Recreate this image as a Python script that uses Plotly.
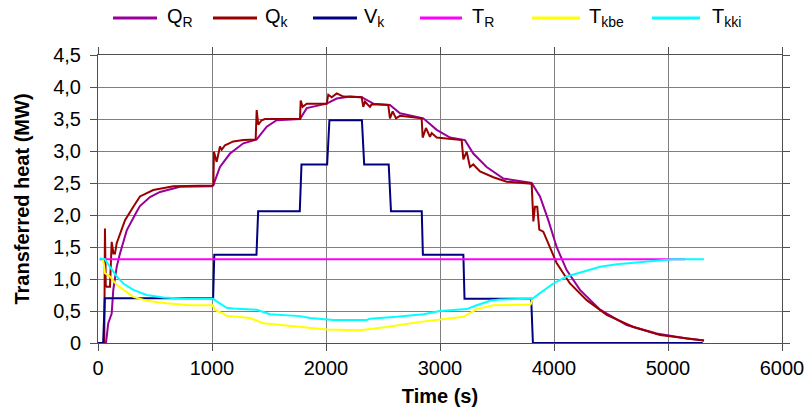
import plotly.graph_objects as go

# Time axis (s) and series values (MW) for each trace
qr_t = [55, 70, 90, 120, 134, 164, 193, 208, 252, 339, 368, 456, 544, 719, 1003, 1012, 1070, 1158, 1275, 1392,
        1480, 1567, 1772, 1831, 1977, 2006, 2094, 2211, 2313, 2415, 2561, 2649, 2854, 2971, 3088, 3219, 3292, 3409,
        3556, 3804, 3877, 3950, 4023, 4111, 4228, 4404, 4637, 4900, 5164, 5316]
qr_v = [0, 0, 0.31, 0.46, 0.83, 1.19, 1.40, 1.50, 1.76, 2.05, 2.14, 2.28, 2.36, 2.44, 2.45, 2.47, 2.75, 2.96, 3.12, 3.18,
        3.38, 3.48, 3.50, 3.67, 3.73, 3.74, 3.82, 3.85, 3.84, 3.74, 3.72, 3.59, 3.51, 3.33, 3.21, 3.17, 2.96, 2.75,
        2.57, 2.50, 2.29, 1.92, 1.50, 1.14, 0.83, 0.52, 0.28, 0.15, 0.07, 0.04]

qk_t = [40, 55, 61, 68, 76, 105, 112, 120, 135, 149, 164, 193, 237, 310, 368, 485, 661, 1003, 1012, 1017,
        1041, 1070, 1085, 1114, 1187, 1275, 1383, 1392, 1406, 1435, 1465, 1772, 1778, 1795, 1831, 2006, 2020, 2050,
        2094, 2152, 2313, 2327, 2342, 2386, 2400, 2546, 2561, 2585, 2614, 2649, 2839, 2848, 2877, 2912, 2927, 2971,
        3190, 3205, 3234, 3263, 3292, 3351, 3468, 3585, 3804, 3819, 3833, 3853, 3871, 3906, 3965, 4023, 4140, 4287,
        4462, 4696, 4930, 5164, 5316]
qk_v = [0, 0, 1.79, 0.9, 0.88, 0.88, 1.2, 1.58, 1.40, 1.40, 1.56, 1.71, 1.92, 2.13, 2.29, 2.39, 2.45, 2.46, 2.47, 2.99,
        2.83, 3.07, 3.02, 3.09, 3.15, 3.17, 3.18, 3.64, 3.41, 3.48, 3.50, 3.50, 3.79, 3.69, 3.74, 3.74, 3.88, 3.84,
        3.90, 3.85, 3.84, 3.69, 3.77, 3.69, 3.73, 3.72, 3.51, 3.62, 3.51, 3.55, 3.51, 3.21, 3.36, 3.22, 3.28, 3.21,
        3.17, 2.87, 2.99, 2.75, 2.79, 2.68, 2.59, 2.52, 2.49, 1.90, 2.13, 2.13, 1.77, 1.74, 1.48, 1.25, 0.93, 0.67,
        0.44, 0.25, 0.125, 0.07, 0.04]

vk_t = [0, 45, 60, 1010, 1020, 1390, 1405, 1770, 1785, 2010, 2030, 2315, 2335, 2550, 2570, 2840, 2850, 3205, 3215,
        3800, 3815, 5305]
vk_v = [0, 0, 0.70, 0.70, 1.38, 1.38, 2.06, 2.06, 2.79, 2.79, 3.48, 3.48, 2.79, 2.79, 2.06, 2.06, 1.38, 1.38, 0.69,
        0.69, 0, 0]

tr_t = [15, 5150]
tr_v = [1.31, 1.31]

tkbe_t = [40, 50, 61, 105, 164, 222, 310, 427, 602, 807, 1005, 1026, 1056, 1100, 1129, 1217, 1333, 1450, 1772, 2006,
          2298, 2532, 2825, 3000, 3205, 3322, 3468, 3795, 3810]
tkbe_v = [1.31, 1.25, 1.09, 1.04, 0.91, 0.83, 0.72, 0.66, 0.62, 0.59, 0.59, 0.52, 0.49, 0.46, 0.42, 0.41, 0.39, 0.31,
          0.25, 0.21, 0.20, 0.25, 0.33, 0.37, 0.41, 0.53, 0.59, 0.60, 0.68]

tkki_t = [15, 60, 105, 164, 222, 310, 427, 573, 778, 1010, 1041, 1070, 1129, 1187, 1392, 1509, 1772, 1860, 2064, 2357,
          2386, 2620, 2854, 3000, 3234, 3322, 3439, 3526, 3810, 3877, 3994, 4111, 4257, 4404, 4550, 4813, 5047, 5315]
tkki_v = [1.32, 1.31, 1.19, 1.04, 0.93, 0.83, 0.75, 0.71, 0.69, 0.69, 0.65, 0.62, 0.55, 0.54, 0.52, 0.45, 0.42, 0.39,
          0.36, 0.36, 0.38, 0.41, 0.45, 0.50, 0.53, 0.59, 0.66, 0.68, 0.69, 0.78, 0.93, 1.04, 1.11, 1.19, 1.23, 1.27,
          1.31, 1.31]

series_names = ["Q<sub>R</sub>", "Q<sub>k</sub>", "V<sub>k</sub>", "T<sub>R</sub>", "T<sub>kbe</sub>", "T<sub>kki</sub>"]
series_colors = ["#990099", "#990000", "#000080", "#FF00FF", "#FFFF00", "#00FFFF"]

y_tick_vals = [0, 0.5, 1.0, 1.5, 2.0, 2.5, 3.0, 3.5, 4.0, 4.5]
y_tick_text = ["0", "0,5", "1,0", "1,5", "2,0", "2,5", "3,0", "3,5", "4,0", "4,5"]
x_tick_vals = [0, 1000, 2000, 3000, 4000, 5000, 6000]

FONT = "Liberation Sans, Arial, sans-serif"

fig = go.Figure()
data = [(qr_t, qr_v), (qk_t, qk_v), (vk_t, vk_v), (tr_t, tr_v), (tkbe_t, tkbe_v), (tkki_t, tkki_v)]
for (t, v), name, col in zip(data, series_names, series_colors):
    fig.add_trace(go.Scatter(x=t, y=v, mode="lines", name=name,
                             line=dict(color=col, width=2), showlegend=False))

# Legend row drawn above the plot area
W, H = 684.0, 288.0
legend_lines = [(113, 157), (213, 257), (313, 357), (420, 462), (532, 580), (652, 700)]
legend_text_x = [165, 263, 362, 470, 587, 710]
ly = (343 - 18) / H
for (x0, x1), tx, name, col in zip(legend_lines, legend_text_x, series_names, series_colors):
    fig.add_shape(type="line", xref="paper", yref="paper",
                  x0=(x0 - 98) / W, x1=(x1 - 98) / W, y0=ly, y1=ly,
                  line=dict(color=col, width=3))
    fig.add_annotation(xref="paper", yref="paper", x=(tx - 98) / W, y=ly, text=name,
                       showarrow=False, xanchor="left", yanchor="middle",
                       font=dict(family=FONT, size=20, color="black"))

axis_common = dict(showgrid=True, gridcolor="#808080", gridwidth=1,
                   showline=True, linecolor="#505050", linewidth=1, mirror="ticks",
                   ticks="outside", ticklen=7, tickcolor="#505050", automargin=False,
                   tickfont=dict(family=FONT, size=20, color="black"), zeroline=False)

fig.update_xaxes(range=[0, 6000], tickvals=x_tick_vals,
                 title=dict(text="<b>Time (s)</b>", font=dict(family=FONT, size=20, color="black"), standoff=10),
                 **axis_common)
fig.update_yaxes(range=[0, 4.5], tickvals=y_tick_vals, ticktext=y_tick_text, ticklabelstandoff=5,
                 title=dict(text="<b>Transferred heat (MW)</b>", font=dict(family=FONT, size=20, color="black"), standoff=18),
                 **axis_common)

fig.update_layout(width=809, height=412, margin=dict(l=98, r=27, t=55, b=69, autoexpand=False),
                  plot_bgcolor="white", paper_bgcolor="white", showlegend=False,
                  font=dict(family=FONT, color="black"))

fig.write_html("out.html")
